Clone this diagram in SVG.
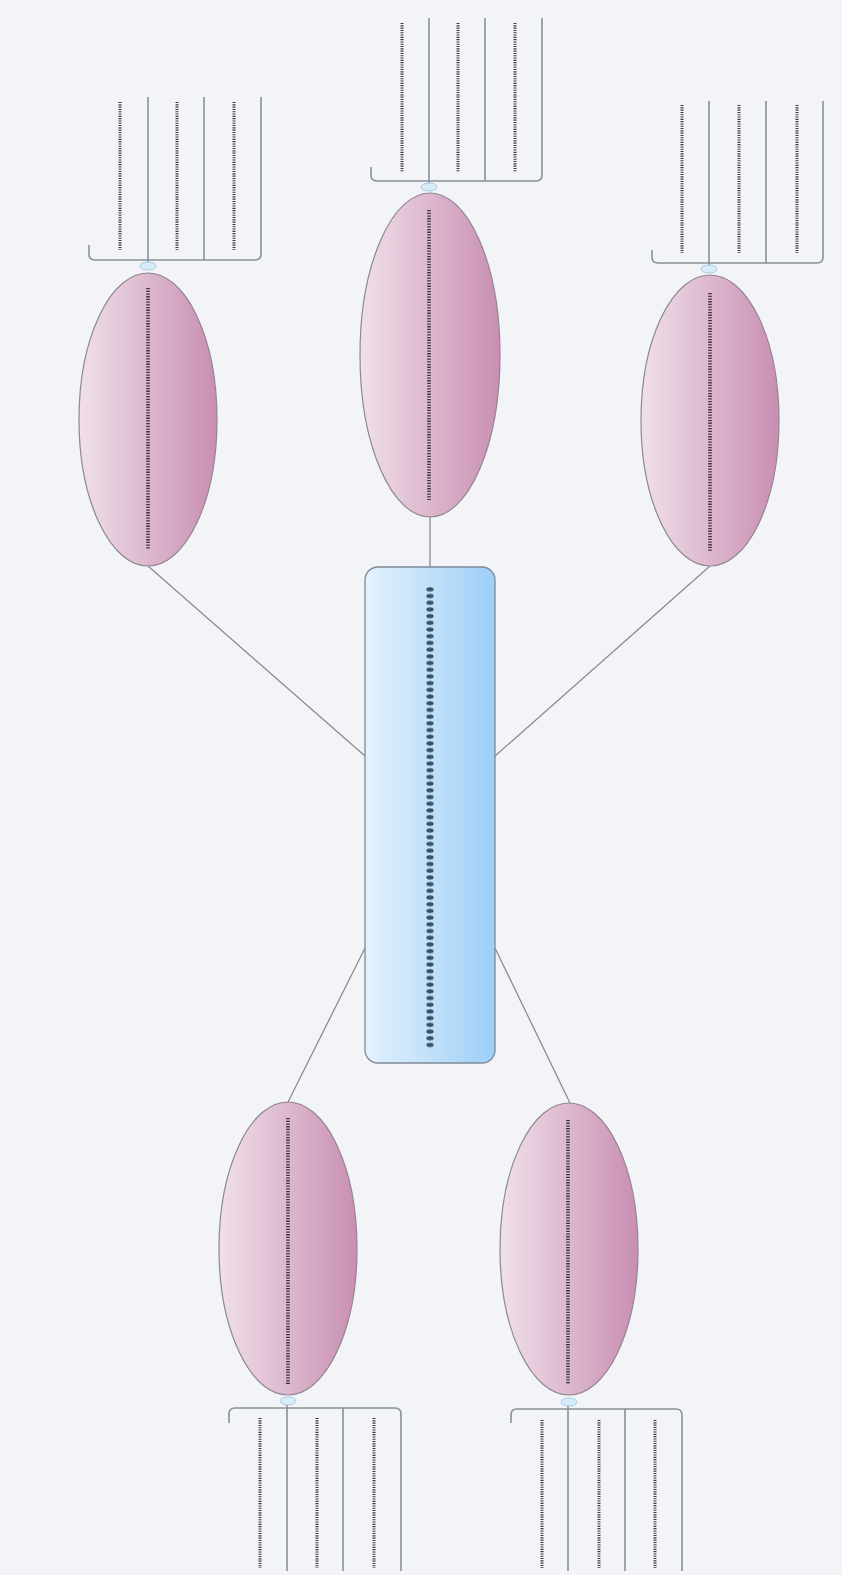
<svg xmlns="http://www.w3.org/2000/svg" width="842" height="1575" viewBox="0 0 842 1575">
<defs>
<linearGradient id="gPink" x1="0" y1="0" x2="1" y2="0">
<stop offset="0" stop-color="#f0e0ea"/>
<stop offset="1" stop-color="#c98eb2"/>
</linearGradient>
<linearGradient id="gBlue" x1="0" y1="0" x2="1" y2="0">
<stop offset="0" stop-color="#e4f2fd"/>
<stop offset="1" stop-color="#9dcff8"/>
</linearGradient>
<pattern id="pDots" x="426" y="586" width="8" height="6.7" patternUnits="userSpaceOnUse">
<ellipse cx="4" cy="3.35" rx="3.6" ry="2.1" fill="#3e5062"/>
</pattern>
<style>
.bg{fill:#f2f4f8}
.ell{fill:url(#gPink);stroke:#8f8690;stroke-width:1.2}
.ctr{fill:url(#gBlue);stroke:#7d8a96;stroke-width:1.3}
.conn{stroke:#8c8c8c;stroke-width:1.3;fill:none}
.brk{stroke:#8a9097;stroke-width:1.6;fill:none}
.knob{fill:#d8ebf8;stroke:#a9cbe6;stroke-width:1}
.dEll{stroke:#3a3340;stroke-width:3.6;stroke-dasharray:1.3 1.4}
.dBr{stroke:#3c3c3c;stroke-width:3;stroke-dasharray:1.1 1.2}
</style>
</defs>
<rect class="bg" x="0" y="0" width="842" height="1575"/>

<g id="connectors">
<line class="conn" x1="430" y1="517" x2="430" y2="568"/>
<line class="conn" x1="148" y1="566" x2="365" y2="756"/>
<line class="conn" x1="710" y1="566" x2="495" y2="756"/>
<line class="conn" x1="365" y1="948" x2="288" y2="1102"/>
<line class="conn" x1="495" y1="948" x2="570" y2="1103"/>
</g>

<g id="central">
<rect class="ctr" x="365" y="567" width="130" height="496" rx="13" ry="13"/>
<rect x="426" y="586" width="8" height="462.3" fill="url(#pDots)"/>
</g>

<g id="topCenter">
<ellipse class="ell" cx="430" cy="355" rx="70" ry="162"/>
<line class="dEll" x1="429" y1="210" x2="429" y2="500"/>
</g>
<g id="topLeft">
<ellipse class="ell" cx="148" cy="419.5" rx="69" ry="146.5"/>
<line class="dEll" x1="148" y1="288" x2="148" y2="550"/>
</g>
<g id="topRight">
<ellipse class="ell" cx="710" cy="420.5" rx="69" ry="145.5"/>
<line class="dEll" x1="710" y1="293" x2="710" y2="551"/>
</g>
<g id="bottomLeft">
<ellipse class="ell" cx="288" cy="1248.5" rx="69" ry="146.5"/>
<line class="dEll" x1="288" y1="1118" x2="288" y2="1384"/>
</g>
<g id="bottomRight">
<ellipse class="ell" cx="569" cy="1249" rx="69" ry="146"/>
<line class="dEll" x1="568" y1="1120" x2="568" y2="1384"/>
</g>

<g id="topLeftSubs">
<path class="brk" d="M89,245 V254 Q89,260 95,260 H255 Q261,260 261,254 V97"/>
<line class="brk" x1="148" y1="97" x2="148" y2="264"/>
<line class="brk" x1="204" y1="97" x2="204" y2="260"/>
<ellipse class="knob" cx="148" cy="266" rx="8" ry="4"/>
<line class="dBr" x1="120" y1="102" x2="120" y2="250"/>
<line class="dBr" x1="177" y1="102" x2="177" y2="250"/>
<line class="dBr" x1="234" y1="102" x2="234" y2="250"/>
</g>

<g id="topCenterSubs">
<path class="brk" d="M371,167 V175 Q371,181 377,181 H536 Q542,181 542,175 V18"/>
<line class="brk" x1="429" y1="18" x2="429" y2="185"/>
<line class="brk" x1="485" y1="18" x2="485" y2="181"/>
<ellipse class="knob" cx="429" cy="187" rx="8" ry="4"/>
<line class="dBr" x1="402" y1="23" x2="402" y2="172"/>
<line class="dBr" x1="458" y1="23" x2="458" y2="172"/>
<line class="dBr" x1="515" y1="23" x2="515" y2="172"/>
</g>

<g id="topRightSubs">
<path class="brk" d="M652,250 V257 Q652,263 658,263 H817 Q823,263 823,257 V101"/>
<line class="brk" x1="709" y1="101" x2="709" y2="267"/>
<line class="brk" x1="766" y1="101" x2="766" y2="263"/>
<ellipse class="knob" cx="709" cy="269" rx="8" ry="4"/>
<line class="dBr" x1="682" y1="105" x2="682" y2="253"/>
<line class="dBr" x1="739" y1="105" x2="739" y2="253"/>
<line class="dBr" x1="797" y1="105" x2="797" y2="253"/>
</g>

<g id="bottomLeftSubs">
<path class="brk" d="M229,1423 V1414 Q229,1408 235,1408 H395 Q401,1408 401,1414 V1571"/>
<line class="brk" x1="287" y1="1404" x2="287" y2="1571"/>
<line class="brk" x1="343" y1="1408" x2="343" y2="1571"/>
<ellipse class="knob" cx="288" cy="1401" rx="8" ry="4"/>
<line class="dBr" x1="260" y1="1418" x2="260" y2="1568"/>
<line class="dBr" x1="317" y1="1418" x2="317" y2="1568"/>
<line class="dBr" x1="374" y1="1418" x2="374" y2="1568"/>
</g>

<g id="bottomRightSubs">
<path class="brk" d="M511,1423 V1415 Q511,1409 517,1409 H676 Q682,1409 682,1415 V1571"/>
<line class="brk" x1="568" y1="1405" x2="568" y2="1571"/>
<line class="brk" x1="625" y1="1409" x2="625" y2="1571"/>
<ellipse class="knob" cx="569" cy="1402" rx="8" ry="4"/>
<line class="dBr" x1="542" y1="1420" x2="542" y2="1568"/>
<line class="dBr" x1="599" y1="1420" x2="599" y2="1568"/>
<line class="dBr" x1="655" y1="1420" x2="655" y2="1568"/>
</g>
</svg>
